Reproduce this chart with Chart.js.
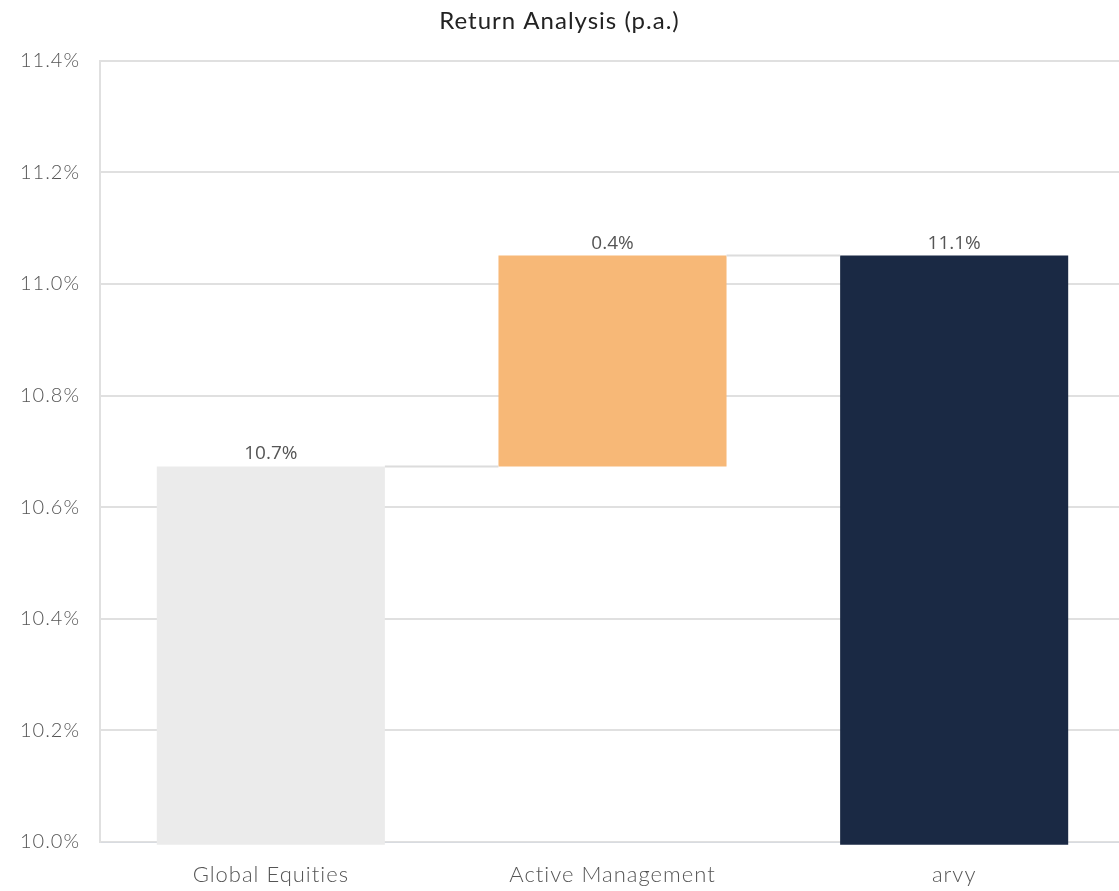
<!DOCTYPE html>
<html>
<head>
<meta charset="utf-8">
<script src="https://cdn.jsdelivr.net/npm/chart.js@4"></script>
<style>
html,body{margin:0;padding:0;background:#fff;}
#wrap{width:1119px;height:891px;}
</style>
</head>
<body>
<div id="wrap"><canvas id="c" width="1119" height="891"></canvas></div>
<script>
const categories = ["Global Equities", "Active Management", "arvy"];
const barStarts = [9.995, 10.673, 9.995];
const barEnds = [10.673, 11.051, 11.051];
const valueLabels = ["10.7%", "0.4%", "11.1%"];
const barColors = ["#ebebeb", "#f7b877", "#1a2944"];
const yTicks = [10.0, 10.2, 10.4, 10.6, 10.8, 11.0, 11.2, 11.4];

const floating = categories.map((c, i) => [barStarts[i], barEnds[i]]);

const spacing = {
  id: 'spacing',
  beforeUpdate(chart) { chart.ctx.letterSpacing = '1px'; },
  beforeLayout(chart) { chart.ctx.letterSpacing = '1px'; },
  afterLayout(chart) {
    const x = chart.scales.x;
    x.right += 6; x.width += 6; x.configure();
  },
  beforeDraw(chart) { chart.ctx.letterSpacing = '1px'; }
};

const helpers = {
  id: 'waterfallExtras',
  afterDatasetsDraw(chart) {
    const ctx = chart.ctx;
    const meta = chart.getDatasetMeta(0);
    const y = chart.scales.y;
    ctx.save();
    ctx.letterSpacing = '0px';
    // connectors
    ctx.strokeStyle = '#dcdcdc';
    ctx.lineWidth = 2;
    for (let i = 0; i < meta.data.length - 1; i++) {
      const a = meta.data[i], b = meta.data[i + 1];
      const yy = y.getPixelForValue(barEnds[i]);
      ctx.beginPath();
      ctx.moveTo(a.x + a.width / 2, yy);
      ctx.lineTo(b.x - b.width / 2, yy);
      ctx.stroke();
    }
    // value labels
    ctx.fillStyle = '#555';
    ctx.font = '19px "Open Sans", sans-serif';
    ctx.textAlign = 'center';
    ctx.textBaseline = 'alphabetic';
    meta.data.forEach((el, i) => {
      const top = y.getPixelForValue(barEnds[i]);
      ctx.fillText(valueLabels[i], el.x, top - 7);
    });
    ctx.restore();
  }
};

new Chart(document.getElementById('c'), {
  type: 'bar',
  data: {
    labels: categories,
    datasets: [{
      data: floating,
      backgroundColor: barColors,
      borderWidth: 0,
      borderSkipped: false,
      barPercentage: 0.75,
      categoryPercentage: 0.89,
      clip: false
    }]
  },
  options: {
    responsive: false,
    animation: false,
    layout: { padding: { left: 0, right: 0, top: 0, bottom: 0 } },
    plugins: {
      legend: { display: false },
      tooltip: { enabled: false },
      title: {
        display: true,
        text: 'Return Analysis (p.a.)',
        color: '#222',
        font: { family: 'Lato, "Open Sans", sans-serif', size: 24, weight: 'normal' },
        padding: { top: 7, bottom: 25 }
      }
    },
    scales: {
      x: {
        z: 1,
        afterFit(scale) { scale.height = 49; },
        grid: { display: false, drawTicks: false },
        border: { display: true, color: '#d8dbe0', width: 1 },
        ticks: {
          color: '#555',
          font: { family: 'Lato, sans-serif', size: 22, weight: 300 },
          padding: 20
        }
      },
      y: {
        min: yTicks[0],
        max: yTicks[yTicks.length - 1],
        afterFit(scale) { scale.width = 100; },
        afterBuildTicks(scale) { scale.ticks = yTicks.map(v => ({ value: v })); },
        grid: { color: '#e0e0e0', lineWidth: 2, drawTicks: false },
        border: { display: true, color: '#e0e0e0', width: 2 },
        ticks: {
          color: '#555',
          font: { family: 'Lato, sans-serif', size: 20, weight: 300 },
          padding: 20,
          callback: v => Number(v).toFixed(1) + '%'
        }
      }
    }
  },
  plugins: [spacing, helpers]
});
</script>
</body>
</html>
